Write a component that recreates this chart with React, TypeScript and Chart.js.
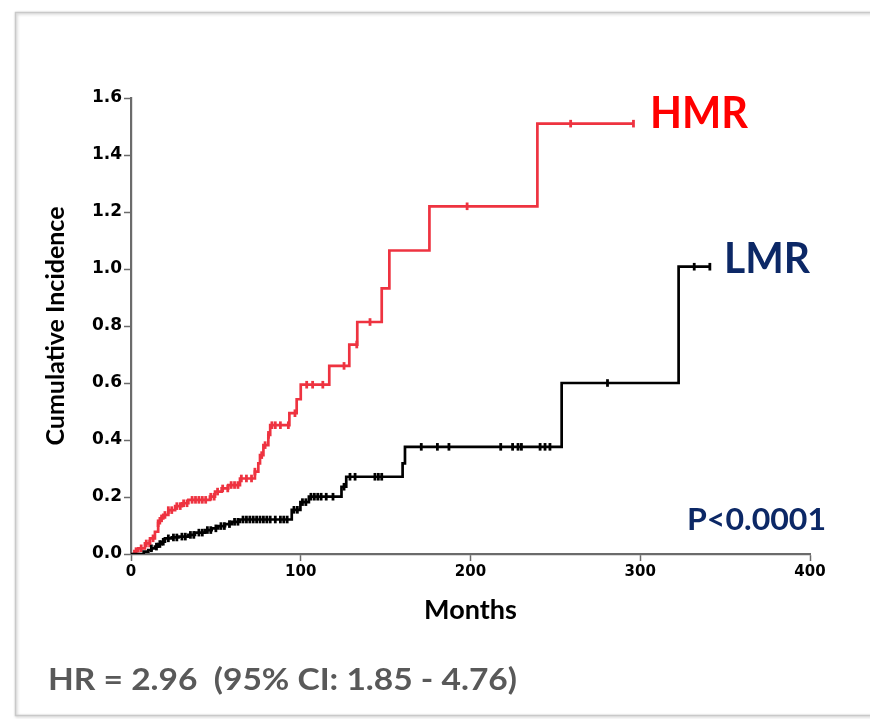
import React, { useEffect, useRef } from 'react';
import { Chart, registerables } from 'chart.js';

Chart.register(...registerables);

// ---- Data (months, cumulative incidence after the step) ----
const hmrMonths = [0, 2, 4.3, 8.2, 11.2, 14.1, 16, 17, 19, 22, 26, 30, 33.8, 46.5, 49.5, 53.4, 57.3, 64.2, 73, 75, 76, 78, 80.9, 82, 93.3, 97.6, 100, 116.8, 128.6, 133.3, 147.7, 152.2, 175.8, 239.4, 296];
const hmrIncidence = [0, 0.01, 0.02, 0.037, 0.055, 0.078, 0.108, 0.125, 0.137, 0.154, 0.168, 0.178, 0.19, 0.201, 0.219, 0.23, 0.242, 0.265, 0.289, 0.318, 0.347, 0.382, 0.418, 0.452, 0.494, 0.543, 0.594, 0.66, 0.735, 0.814, 0.932, 1.065, 1.22, 1.51, 1.51];
const hmrCensored = [3, 6, 9, 11, 13, 16, 18, 20, 22, 24, 27, 29, 31, 33, 36, 38, 40, 42, 44, 47, 49, 51, 54, 57, 59, 61, 63, 65, 68, 71, 73, 77, 79, 81, 83, 85, 88, 92.7, 96.6, 103.5, 107, 113, 125.5, 133, 140.8, 198, 259, 296];

const lmrMonths = [0, 7.5, 10.2, 12, 14.1, 16, 18, 20, 24, 28, 33.8, 37.7, 43.6, 47.5, 51.4, 55.4, 59.3, 64.2, 94.7, 99.8, 104.8, 124, 126.8, 160, 161.4, 253.7, 322.6, 341];
const lmrIncidence = [0, 0.008, 0.014, 0.02, 0.026, 0.035, 0.043, 0.055, 0.058, 0.061, 0.067, 0.075, 0.084, 0.09, 0.098, 0.105, 0.113, 0.121, 0.155, 0.182, 0.201, 0.236, 0.271, 0.318, 0.376, 0.6, 1.008, 1.008];
const lmrCensored = [12, 15, 17, 19, 22, 25, 27, 30, 32, 35, 37, 40, 42, 45, 47, 50, 53, 55, 58, 61, 63, 66, 68, 70, 72, 74, 76, 78, 80, 82, 85, 88, 90, 92, 96, 98, 101, 103, 106, 108, 110, 112, 115, 119, 125.5, 129, 132, 143.7, 145.7, 147.7, 171, 180.5, 187.3, 217.8, 224.8, 228, 230, 241, 243.9, 246.8, 280.7, 331.8, 341];

const xTickValues = [0, 100, 200, 300, 400];
const yTickValues = [0, 0.2, 0.4, 0.6, 0.8, 1.0, 1.2, 1.4, 1.6];

const hmrLabel = 'HMR';
const lmrLabel = 'LMR';
const pValueText = 'P<0.0001';
const hrText = 'HR = 2.96  (95% CI: 1.85 - 4.76)';

const HMR_COLOR = '#EE3340';
const LMR_COLOR = '#000000';

function valueAt(months: number[], values: number[], t: number): number {
  let v = values[0];
  for (let i = 0; i < months.length; i++) {
    if (months[i] <= t) v = values[i];
  }
  return v;
}

function fitText(ctx: CanvasRenderingContext2D, text: string, left: number, baseline: number, width: number, capHeight: number, color: string) {
  const size = capHeight / 0.7165;
  ctx.save();
  ctx.font = `bold ${size}px Lato`;
  const w = ctx.measureText(text).width;
  ctx.translate(left, baseline);
  ctx.scale(width / w, 1);
  ctx.fillStyle = color;
  ctx.textBaseline = 'alphabetic';
  ctx.textAlign = 'left';
  ctx.fillText(text, 0, 0);
  ctx.restore();
}

const decorPlugin = {
  id: 'kmDecor',
  beforeDraw(chart: any) {
    const ctx: CanvasRenderingContext2D = chart.ctx;
    ctx.save();
    ctx.fillStyle = '#ffffff';
    ctx.fillRect(0, 0, chart.width, chart.height);
    ctx.shadowColor = 'rgba(0,0,0,0.25)';
    ctx.shadowBlur = 3;
    ctx.shadowOffsetX = 1;
    ctx.shadowOffsetY = 1;
    ctx.strokeStyle = '#C9C9C9';
    ctx.lineWidth = 1.5;
    ctx.strokeRect(15.5, 12.5, 900, 703);
    ctx.restore();
  },
  afterDraw(chart: any) {
    const ctx: CanvasRenderingContext2D = chart.ctx;
    fitText(ctx, hmrLabel, 650, 128, 98, 32, '#FF0000');
    fitText(ctx, lmrLabel, 724, 273, 86, 30, '#0C2866');
    fitText(ctx, pValueText, 687, 530, 139, 22, '#0C2866');
    fitText(ctx, hrText, 48, 690, 469, 22, '#595959');
  },
};

export default function App() {
  const ref = useRef<HTMLCanvasElement>(null);

  useEffect(() => {
    document.body.style.margin = '0';
    const canvas = ref.current!;
    const hmrLine = hmrMonths.map((m, i) => ({ x: m, y: hmrIncidence[i] }));
    const lmrLine = lmrMonths.map((m, i) => ({ x: m, y: lmrIncidence[i] }));
    const hmrMarks = hmrCensored.map((m) => ({ x: m, y: valueAt(hmrMonths, hmrIncidence, m) }));
    const lmrMarks = lmrCensored.map((m) => ({ x: m, y: valueAt(lmrMonths, lmrIncidence, m) }));

    const axisColor = '#6b6b6b';

    const chart = new Chart(canvas, {
      type: 'line',
      data: {
        datasets: [
          {
            label: 'LMR',
            data: lmrLine,
            borderColor: LMR_COLOR,
            borderWidth: 2.7,
            stepped: 'before',
            pointRadius: 0,
            fill: false,
          },
          {
            label: 'HMR',
            data: hmrLine,
            borderColor: HMR_COLOR,
            borderWidth: 2.7,
            stepped: 'before',
            pointRadius: 0,
            fill: false,
          },
          {
            label: 'LMR censored',
            data: lmrMarks,
            showLine: false,
            pointStyle: 'line',
            rotation: 90,
            pointRadius: 3.8,
            pointBorderWidth: 2.8,
            borderColor: LMR_COLOR,
            pointBorderColor: LMR_COLOR,
          } as any,
          {
            label: 'HMR censored',
            data: hmrMarks,
            showLine: false,
            pointStyle: 'line',
            rotation: 90,
            pointRadius: 3.8,
            pointBorderWidth: 2.8,
            borderColor: HMR_COLOR,
            pointBorderColor: HMR_COLOR,
          } as any,
        ],
      },
      options: {
        animation: false,
        responsive: false,
        devicePixelRatio: 1,
        events: [],
        layout: { padding: { left: 0, top: 98, right: 60, bottom: 0 } },
        plugins: {
          legend: { display: false },
          tooltip: { enabled: false },
          title: { display: false },
        },
        scales: {
          x: {
            type: 'linear',
            min: 0,
            max: 400,
            afterBuildTicks: (s: any) => {
              s.ticks = xTickValues.map((v) => ({ value: v }));
            },
            afterFit: (s: any) => {
              s.height = 165;
            },
            ticks: {
              color: '#000',
              font: { family: 'DejaVu Sans', size: 15, weight: 'bold' },
              padding: 2,
              maxRotation: 0,
              callback: (v: any) => String(v),
            },
            grid: {
              display: true,
              drawOnChartArea: false,
              drawTicks: true,
              tickLength: 7,
              tickColor: axisColor,
              tickWidth: 1.5,
            },
            border: { display: true, color: axisColor, width: 2.2 },
            title: {
              display: true,
              text: 'Months',
              color: '#000',
              font: { family: 'Lato', size: 27, weight: 'bold' },
              padding: { top: 0, bottom: 93 },
            },
          },
          y: {
            type: 'linear',
            min: 0,
            max: 1.6,
            afterBuildTicks: (s: any) => {
              s.ticks = yTickValues.map((v) => ({ value: v }));
            },
            afterFit: (s: any) => {
              s.width = 131;
            },
            ticks: {
              color: '#000',
              font: { family: 'DejaVu Sans', size: 17, weight: 'bold' },
              padding: 2,
              callback: (v: any) => Number(v).toFixed(1),
            },
            grid: {
              display: true,
              drawOnChartArea: false,
              drawTicks: true,
              tickLength: 7,
              tickColor: axisColor,
              tickWidth: 1.5,
            },
            border: { display: true, color: axisColor, width: 2.2 },
            title: {
              display: true,
              text: 'Cumulative Incidence',
              color: '#000',
              font: { family: 'Lato', size: 25, weight: 'bold' },
              padding: { top: 41, bottom: 0 },
            },
          },
        },
      },
      plugins: [decorPlugin],
    } as any);

    return () => chart.destroy();
  }, []);

  return (
    <div style={{ position: 'absolute', left: 0, top: 0, width: 870, height: 719 }}>
      <canvas ref={ref} width={870} height={719} style={{ display: 'block', width: 870, height: 719 }} />
    </div>
  );
}
